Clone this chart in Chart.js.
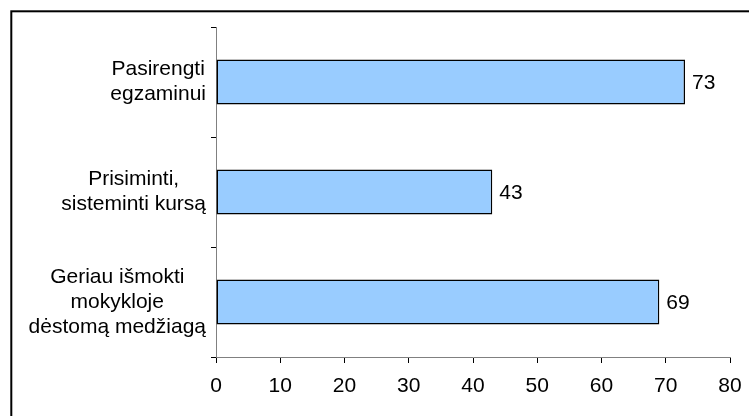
<!DOCTYPE html>
<html>
<head>
<meta charset="utf-8">
<title>Chart</title>
<script src="https://cdn.jsdelivr.net/npm/chart.js@4/dist/chart.umd.min.js"></script>
<style>
	body { margin: 0; background: #fff; }
	canvas { display: block; }
</style>
</head>
<body>
<canvas id="myChart" width="749" height="416"></canvas>
<script>
	// data
	var categories = [
		['Pasirengti', 'egzaminui'],
		['Prisiminti,', 'sisteminti kursą'],
		['Geriau išmokti', 'mokykloje', 'dėstomą medžiagą']
	];
	var values = [73, 43, 69];
	var xMin = 0, xMax = 80, xStep = 10;

	var fontFamily = '"Liberation Sans", Arial, sans-serif';

	// outer frame (only top and left edges are inside the picture)
	var framePlugin = {
		id: 'frame',
		beforeDraw: function (chart) {
			var ctx = chart.ctx;
			ctx.save();
			ctx.fillStyle = '#fff';
			ctx.fillRect(0, 0, chart.width, chart.height);
			ctx.strokeStyle = '#000';
			ctx.lineWidth = 2;
			ctx.strokeRect(11.3, 11.3, 900, 900);
			ctx.restore();
		}
	};

	// category labels: each block right aligned to the axis, lines centred inside the block
	var categoryLabels = {
		id: 'categoryLabels',
		afterDraw: function (chart) {
			var ctx = chart.ctx;
			var yScale = chart.scales.y;
			var lh = 25;
			ctx.save();
			ctx.font = '21px ' + fontFamily;
			ctx.fillStyle = '#000';
			ctx.textAlign = 'center';
			ctx.textBaseline = 'middle';
			categories.forEach(function (lines, i) {
				var blockW = 0;
				lines.forEach(function (t) { blockW = Math.max(blockW, ctx.measureText(t).width); });
				var cx = yScale.right - 10 - blockW / 2;
				var cy = yScale.getPixelForValue(i);
				var y0 = cy - (lines.length - 1) / 2 * lh;
				lines.forEach(function (t, k) {
					ctx.fillText(t, cx, y0 + k * lh);
				});
			});
			ctx.restore();
		}
	};

	// numbers to the right of each bar
	var valueLabels = {
		id: 'valueLabels',
		afterDatasetsDraw: function (chart) {
			var ctx = chart.ctx;
			var meta = chart.getDatasetMeta(0);
			ctx.save();
			ctx.font = '21px ' + fontFamily;
			ctx.fillStyle = '#000';
			ctx.textAlign = 'left';
			ctx.textBaseline = 'middle';
			meta.data.forEach(function (bar, i) {
				ctx.fillText(values[i], bar.x + 7, bar.y + 1);
			});
			ctx.restore();
		}
	};

	new Chart(document.getElementById('myChart'), {
		type: 'bar',
		data: {
			labels: categories,
			datasets: [{
				data: values,
				backgroundColor: '#99CCFF',
				borderColor: '#000',
				borderWidth: 1.5,
				borderSkipped: false,
				categoryPercentage: 1,
				barPercentage: 0.41
			}]
		},
		options: {
			indexAxis: 'y',
			responsive: false,
			animation: false,
			layout: { padding: { top: 27, left: 12, right: 19, bottom: 0 } },
			plugins: {
				legend: { display: false },
				tooltip: { enabled: false }
			},
			scales: {
				x: {
					min: xMin,
					max: xMax,
					afterFit: function (scale) {
						scale.height = 59;
						scale.paddingLeft = 0;
						scale.paddingRight = 0;
					},
					ticks: {
						stepSize: xStep,
						color: '#000',
						padding: 11,
						maxRotation: 0,
						font: { family: fontFamily, size: 21, lineHeight: 1.2 }
					},
					grid: { drawOnChartArea: false, tickLength: 6, color: '#000', tickWidth: 1 },
					border: { color: '#808080', width: 1 }
				},
				y: {
					afterFit: function (scale) {
						scale.width = 204;
						scale.paddingTop = 0;
						scale.paddingBottom = 0;
					},
					ticks: { display: false },
					grid: { offset: true, drawOnChartArea: false, tickLength: 5, color: '#000', tickWidth: 1 },
					border: { color: '#808080', width: 1 }
				}
			}
		},
		plugins: [framePlugin, categoryLabels, valueLabels]
	});
</script>
</body>
</html>
